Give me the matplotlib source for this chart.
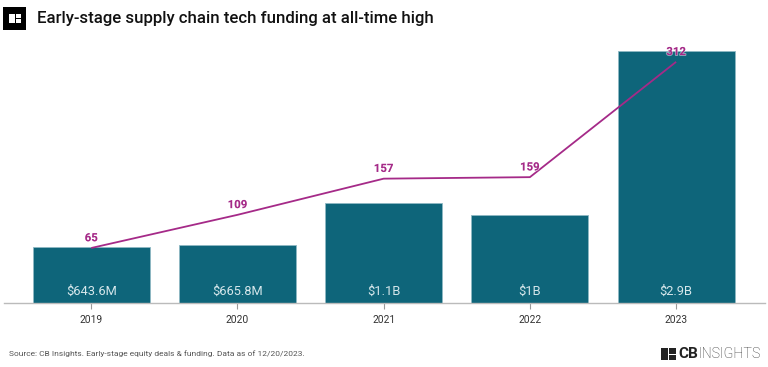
import matplotlib
matplotlib.use("Agg")
import matplotlib.pyplot as plt
import matplotlib.patheffects as pe
from matplotlib.patches import Rectangle

plt.rcParams['font.family'] = ['Roboto', 'DejaVu Sans']

# Dados
years = ["2019", "2020", "2021", "2022", "2023"]
funding = [0.6436, 0.6658, 1.15, 1.01, 2.9]
funding_labels = ["$643.6M", "$665.8M", "$1.1B", "$1B", "$2.9B"]
deals = [65, 109, 157, 159, 312]

W, H = 768, 367
TEAL = "#0e657a"
PURPLE = "#a52a88"

fig = plt.figure(figsize=(W / 100, H / 100), dpi=100)

# Eixo principal: barras
ax = fig.add_axes([4 / W, 1 - 303 / H, 761 / W, 263 / H])
x = list(range(len(years)))
ax.bar(x, funding, width=0.8, color=TEAL, edgecolor="#8fb9c4", linewidth=0.6)
ax.set_xlim(-0.597, 4.608)
ax.set_ylim(0, 2.9 * 263 / 252)
ax.set_yticks([])
ax.set_xticks(x, years)
ax.tick_params(axis="x", length=4, width=0.8, color="#999999", labelcolor="#333333",
               labelsize=7.4, pad=4.5)
for side in ["top", "left", "right"]:
    ax.spines[side].set_visible(False)
ax.spines["bottom"].set_color("#bbbbbb")
ax.spines["bottom"].set_linewidth(1.0)

for xi, label in zip(x, funding_labels):
    ax.annotate(label, (xi, 0), xytext=(0, 3.6), textcoords="offset points",
                ha="center", va="bottom", color="#d6e7eb", fontsize=9.3)

# Eixo secundário: linha de deals
ax2 = ax.twinx()
ax2.set_ylim(-8, 341)
ax2.axis("off")
ax2.plot(x, deals, color=PURPLE, linewidth=1.3, solid_capstyle="butt")
for xi, d in zip(x, deals):
    ax2.annotate(str(d), (xi, d), xytext=(0, 7), textcoords="offset points",
                 ha="center", va="center", color=PURPLE, fontsize=8.2, fontweight="bold",
                 path_effects=[pe.withStroke(linewidth=1.2, foreground="#ffffff80")])

# Título e ícone
fig.patches.append(Rectangle((3 / W, 1 - 30 / H), 23 / W, 23 / H, transform=fig.transFigure,
                             facecolor="black", edgecolor="none"))
fig.patches.append(Rectangle((9 / W, 1 - 23 / H), 12 / W, 9 / H, transform=fig.transFigure,
                             facecolor="white", edgecolor="none"))
fig.patches.append(Rectangle((15 / W, 1 - 23 / H), 1 / W, 9 / H, transform=fig.transFigure,
                             facecolor="black", edgecolor="none"))
fig.patches.append(Rectangle((15 / W, 1 - 19 / H), 6 / W, 1 / H, transform=fig.transFigure,
                             facecolor="black", edgecolor="none"))
fig.text(37 / W, 1 - 19 / H, "Early-stage supply chain tech funding at all-time high",
         fontsize=12.05, fontweight="medium", color="#111111", va="center", ha="left")

# Fonte e logo
fig.text(9 / W, 1 - 354 / H, "Source: CB Insights. Early-stage equity deals & funding. Data as of 12/20/2023.",
         fontsize=6.0, color="#555555", va="center", ha="left")
fig.patches.append(Rectangle((661 / W, 1 - 360 / H), 15 / W, 12 / H, transform=fig.transFigure,
                             facecolor="#222222", edgecolor="none"))
fig.patches.append(Rectangle((668 / W, 1 - 360 / H), 1 / W, 12 / H, transform=fig.transFigure,
                             facecolor="white", edgecolor="none"))
fig.patches.append(Rectangle((668 / W, 1 - 354.5 / H), 8 / W, 1 / H, transform=fig.transFigure,
                             facecolor="white", edgecolor="none"))
fig.text(678 / W, 1 - 354 / H, "CB", fontsize=11, fontweight="bold", color="#222222",
         va="center", ha="left")
fig.text(698 / W, 1 - 354 / H, "INSIGHTS", fontsize=10.3, fontweight="light", color="#333333",
         va="center", ha="left")

fig.savefig("out.png", dpi=100)
